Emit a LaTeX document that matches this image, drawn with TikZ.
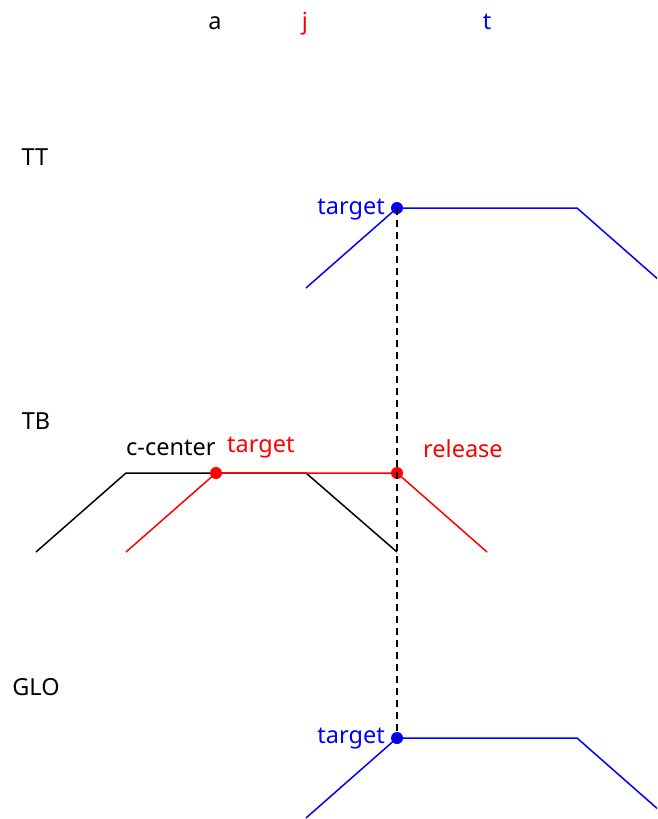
\documentclass[tikz,border=0pt]{standalone}
\usepackage{fontspec}
\setmainfont{Noto Sans}
\usetikzlibrary{positioning}

\begin{document}
\begin{tikzpicture}[x=1pt,y=-1pt,
  lbl/.style={font=\fontsize{23.5}{28}\selectfont,inner sep=0pt,anchor=base},
  seg/.style={line width=1.5pt},
  dot/.style={circle,fill,inner sep=0pt,minimum size=12pt}
]
  \useasboundingbox (0,0) rectangle (657,819);
  \clip (0,0) rectangle (657,819);
  % header
  \node[lbl] (ha) at (215,29) {a};
  \node[lbl,text=red] (hj) at (305,29) {j};
  \node[lbl,text=blue] (ht) at (487,29) {t};
  % row names
  \node[lbl] (tt) at (35,165) {TT};
  \node[lbl] (tb) at (36,429) {TB};
  \node[lbl] (glo) at (36,695) {GLO};
  % TT
  \draw[seg,blue] (306,288) -- (397,208) -- (577,208) -- (668,288);
  \node[dot,blue] (tttarget) at (397,208) {};
  \node[lbl,text=blue,anchor=base east] (ttlbl) at (385,214) {target};
  % TB
  \draw[seg,black] (36,552) -- (126,473) -- (306,473) -- (397,552);
  \draw[seg,red] (126,552) -- (216,473) -- (397,473) -- (487,552);
  \node[dot,red] (tbtarget) at (216,473) {};
  \node[dot,red] (tbrelease) at (397,473) {};
  \node[lbl,anchor=base west] (cc) at (126,455) {c-center};
  \node[lbl,text=red,anchor=base west] (tblbl) at (227,452) {target};
  \node[lbl,text=red,anchor=base west] (rellbl) at (423,457) {release};
  % GLO
  \draw[seg,blue] (306,818) -- (397,738) -- (577,738) -- (668,818);
  \node[dot,blue] (glotarget) at (397,738) {};
  \node[lbl,text=blue,anchor=base east] (glolbl) at (385,743) {target};
  % sync line
  \draw[seg,dashed,dash pattern=on 7pt off 5pt] (tttarget.center) -- (glotarget.center);
\end{tikzpicture}
\end{document}
